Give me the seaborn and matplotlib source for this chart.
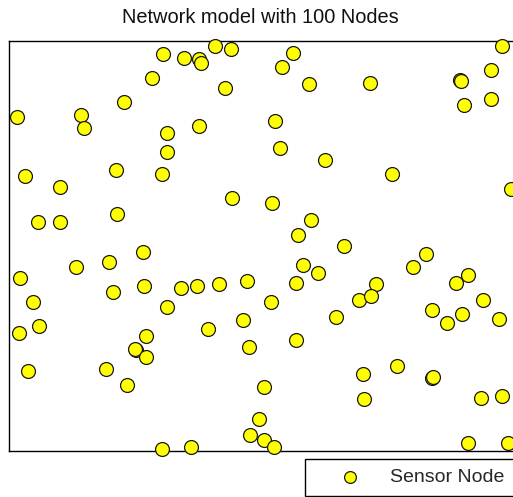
import matplotlib

matplotlib.use("Agg")
import matplotlib.pyplot as plt
import pandas as pd
import seaborn as sns

# node positions (field units, 0-100 square)
node_x = [
    30.20, 34.31, 37.24, 37.51, 40.25, 43.39, 55.58, 53.37, 58.71, 70.59,
    96.48, 94.27, 88.32, 88.40, 88.98, 94.27, 28.04, 42.21, 22.50, 14.03,
    14.68, 1.57, 30.86, 37.18, 52.11, 30.86, 53.03, 61.78, 74.95, 98.18,
    3.13, 20.88, 29.94, 9.98, 43.70, 51.53, 5.62, 9.98, 21.19, 59.04,
    56.50, 65.52, 26.16, 81.55, 19.63, 13.11, 57.48, 79.00, 60.53, 2.15,
    46.52, 89.88, 87.48, 26.48, 33.72, 36.79, 41.15, 56.16, 71.82, 20.29,
    51.21, 68.43, 70.84, 92.70, 4.64, 30.86, 82.78, 88.65, 95.83, 5.93,
    39.00, 45.89, 63.99, 85.77, 1.90, 26.81, 56.16, 24.79, 24.60, 26.81,
    47.03, 3.72, 18.98, 23.09, 49.96, 69.33, 75.87, 82.84, 83.03, 69.53,
    92.43, 96.42, 48.98, 47.10, 49.96, 51.86, 30.00, 35.62, 89.88, 97.71,
]
node_y = [
    96.82, 95.99, 95.60, 94.77, 98.85, 98.05, 97.21, 93.80, 89.50, 89.89,
    98.85, 92.99, 90.55, 90.23, 84.37, 85.91, 90.96, 88.59, 85.17, 82.00,
    78.82, 81.58, 77.67, 79.31, 80.46, 73.03, 73.86, 71.01, 67.51, 64.04,
    67.22, 68.56, 67.54, 64.41, 61.72, 60.58, 55.86, 55.86, 57.89, 56.28,
    52.69, 50.00, 48.46, 48.05, 46.09, 44.87, 45.29, 44.87, 43.33, 42.18,
    41.45, 42.92, 41.04, 40.23, 39.81, 40.23, 40.64, 41.04, 40.64, 38.69,
    36.25, 36.74, 37.79, 36.74, 36.25, 35.10, 34.25, 33.51, 32.17, 30.46,
    29.73, 31.92, 32.54, 31.19, 28.82, 28.09, 26.97, 24.60, 24.77, 22.96,
    25.40, 19.54, 19.88, 15.97, 15.56, 18.81, 20.69, 17.68, 18.08, 12.55,
    12.87, 13.36, 7.82, 3.91, 2.69, 0.83, 0.34, 0.83, 1.95, 1.95,
]
n_nodes = len(node_x)
node_label = "Sensor Node"

W, H = 513, 497
sns.set_style("white")
plt.rcParams["font.family"] = ["Liberation Sans", "DejaVu Sans"]

fig = plt.figure(figsize=(W / 100, H / 100), dpi=100)
fig.set_facecolor("white")
# the axes run past the right edge of the picture, as in the cropped original
ax = fig.add_axes([9 / W, 1 - 450.7 / H, 511 / W, 409.4 / H])

df = pd.DataFrame({"x": node_x, "y": node_y})
sns.scatterplot(
    data=df, x="x", y="y", ax=ax,
    s=100, color="#ffff00", edgecolor="#1a1a1a", linewidth=0.9,
    label=node_label, legend=False, clip_on=False, zorder=3,
)
ax.set_xlim(0, 100)
ax.set_ylim(0, 100)
ax.set_xticks([])
ax.set_yticks([])
ax.set_xlabel("")
ax.set_ylabel("")
for side in ("left", "top", "bottom"):
    ax.spines[side].set_color("black")
    ax.spines[side].set_linewidth(1.0)
ax.spines["right"].set_visible(False)

fig.text(260 / W, 1 - 17.5 / H, f"Network model with {n_nodes} Nodes",
         ha="center", va="center", fontsize=14.4, color="#111111")

# legend box also runs past the right edge
handles, labels = ax.get_legend_handles_labels()
leg = fig.legend(
    handles, labels, loc="upper left",
    bbox_to_anchor=(305 / W, 1 - 496 / H, 225 / W, 37 / H), mode="expand",
    fontsize=14, frameon=True, fancybox=False, borderpad=0.5,
    handlelength=3.64, handletextpad=0.24, borderaxespad=0, markerscale=0.85,
)
leg.get_frame().set_edgecolor("black")
leg.get_frame().set_linewidth(1.0)
leg.get_frame().set_alpha(1)

fig.savefig("out.png", dpi=100, facecolor="white")
